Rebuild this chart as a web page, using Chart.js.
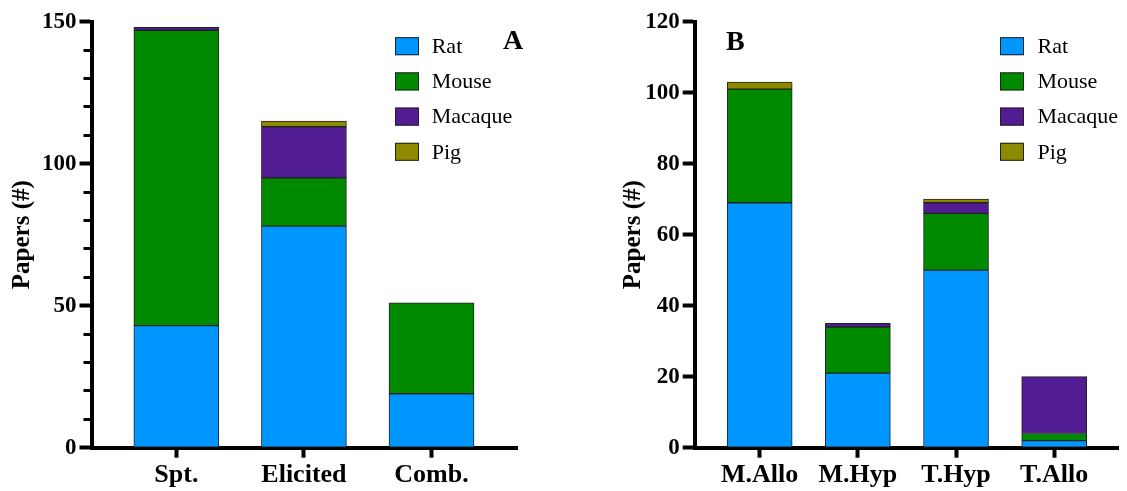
<!DOCTYPE html>
<html>
<head>
<meta charset="utf-8">
<script src="https://cdn.jsdelivr.net/npm/chart.js@4.4.1/dist/chart.umd.min.js"></script>
<style>
  html, body { margin: 0; padding: 0; background: #fff; }
  #wrapA { position: absolute; left: 0; top: 0; width: 563px; height: 491px; }
  #wrapB { position: absolute; left: 563px; top: 0; width: 564px; height: 491px; }
</style>
</head>
<body>
<div id="wrapA"><canvas id="chartA" width="563" height="491"></canvas></div>
<div id="wrapB"><canvas id="chartB" width="564" height="491"></canvas></div>
<script>
// panel A
const categoriesA = ['Spt.', 'Elicited', 'Comb.'];
const ratA = [43, 78, 19];
const mouseA = [104, 17, 32];
const macaqueA = [1, 18, 0];
const pigA = [0, 2, 0];
const yMajorA = [0, 50, 100, 150];

// panel B
const categoriesB = ['M.Allo', 'M.Hyp', 'T.Hyp', 'T.Allo'];
const ratB = [69, 21, 50, 2];
const mouseB = [32, 13, 16, 2];
const macaqueB = [0, 1, 3, 16];
const pigB = [2, 0, 1, 0];
const yMajorB = [0, 20, 40, 60, 80, 100, 120];

const speciesNames = ['Rat', 'Mouse', 'Macaque', 'Pig'];
const speciesColors = ['#0096FF', '#008A00', '#521C93', '#8E8A00'];

const SERIF = '"Liberation Serif", "Times New Roman", "DejaVu Serif", serif';

// legend + panel letter, drawn on the canvas
const panelDecor = {
  id: 'panelDecor',
  afterDraw(chart, args, opts) {
    const ctx = chart.ctx;
    ctx.save();
    chart.data.datasets.forEach((ds, i) => {
      const cy = opts.legendY + i * opts.rowGap;
      ctx.fillStyle = ds.backgroundColor;
      ctx.fillRect(opts.legendX, cy - 9, 24, 18);
      ctx.strokeStyle = '#222';
      ctx.lineWidth = 1;
      ctx.strokeRect(opts.legendX + 0.5, cy - 8.5, 23, 17);
      ctx.fillStyle = '#000';
      ctx.font = '22px ' + SERIF;
      ctx.textBaseline = 'middle';
      ctx.textAlign = 'left';
      ctx.fillText(ds.label, opts.textX, cy + 1);
    });
    ctx.font = 'bold 28px ' + SERIF;
    ctx.textBaseline = 'alphabetic';
    ctx.fillText(opts.letter, opts.letterX, opts.letterY);
    ctx.restore();
  }
};

function makeDatasets(series, width) {
  return series.map((vals, i) => ({
    label: speciesNames[i],
    data: vals.map((v, j) => ({ x: j, y: v })),
    backgroundColor: speciesColors[i],
    borderColor: '#222',
    borderWidth: 1,
    borderSkipped: false,
    barThickness: width
  }));
}

function makeChart(canvasId, cats, series, cfg) {
  const ctx = document.getElementById(canvasId).getContext('2d');
  return new Chart(ctx, {
    type: 'bar',
    data: { datasets: makeDatasets(series, cfg.barWidth) },
    options: {
      responsive: false,
      animation: false,
      layout: { padding: { top: 21.7, right: cfg.padRight, left: 0, bottom: 0 } },
      plugins: {
        legend: { display: false },
        tooltip: { enabled: false },
        panelDecor: cfg.decor
      },
      scales: {
        x: {
          type: 'linear',
          stacked: true,
          offset: false,
          min: cfg.xMin,
          max: cfg.xMax,
          afterBuildTicks: (scale) => { scale.ticks = cats.map((c, i) => ({ value: i })); },
          afterFit: (scale) => { scale.height = 43.3; },
          ticks: {
            autoSkip: false,
            maxRotation: 0,
            padding: 2,
            color: '#000',
            font: { family: SERIF, size: 26, weight: 'bold' },
            callback: (v) => cats[v]
          },
          grid: { offset: false, drawOnChartArea: false, tickLength: 10, tickWidth: 4, tickColor: '#000' },
          border: { color: '#000', width: 4 }
        },
        y: {
          stacked: true,
          min: 0,
          max: cfg.yMax,
          afterFit: (scale) => { scale.width = cfg.yWidth; },
          ticks: {
            stepSize: cfg.yStep,
            autoSkip: false,
            padding: 3,
            color: '#000',
            font: { family: SERIF, size: 23, weight: 'bold' },
            callback: (v) => cfg.yMajor.includes(v) ? String(v) : ''
          },
          grid: {
            drawOnChartArea: false,
            tickLength: 12,
            tickColor: '#000',
            tickWidth: (c) => cfg.yMajor.includes(c.tick.value) ? 4 : 3,
            tickBorderDash: (c) => cfg.yMajor.includes(c.tick.value) ? [] : [0, 4, 30, 0]
          },
          border: { color: '#000', width: 4 },
          title: {
            display: true,
            text: 'Papers (#)',
            color: '#000',
            font: { family: SERIF, size: 25, weight: 'bold' },
            padding: { top: cfg.titlePad, bottom: 0 }
          }
        }
      }
    },
    plugins: [panelDecor]
  });
}

function drawAll() {
  makeChart('chartA', categoriesA, [ratA, mouseA, macaqueA, pigA], {
    barWidth: 85, xMin: -0.665, xMax: 2.67, padRight: 46, yWidth: 91.5,
    yMax: 150, yStep: 10, yMajor: yMajorA, titlePad: 8,
    decor: { legendX: 395, legendY: 46.2, rowGap: 35.2, textX: 431.7, letter: 'A', letterX: 503, letterY: 48.5 }
  });

  makeChart('chartB', categoriesB, [ratB, mouseB, macaqueB, pigB], {
    barWidth: 65, xMin: -0.662, xMax: 3.65, padRight: 9, yWidth: 131.7,
    yMax: 120, yStep: 20, yMajor: yMajorB, titlePad: 56,
    decor: { legendX: 437, legendY: 46.2, rowGap: 35.2, textX: 474.5, letter: 'B', letterX: 163, letterY: 49.5 }
  });
}

Promise.all([
  document.fonts.load('bold 24px "Liberation Serif"'),
  document.fonts.load('22px "Liberation Serif"')
]).then(drawAll, drawAll);
</script>
</body>
</html>
